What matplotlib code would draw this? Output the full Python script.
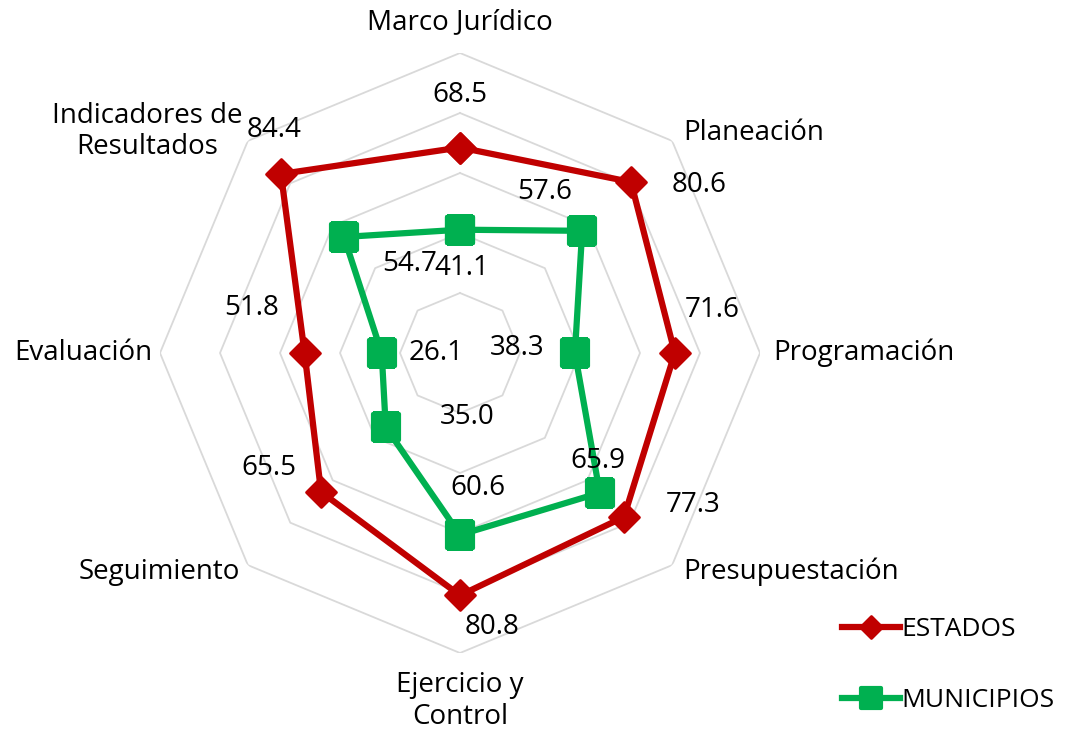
import numpy as np
import matplotlib
matplotlib.use("Agg")
import matplotlib.pyplot as plt
from matplotlib.markers import MarkerStyle

plt.rcParams["font.family"] = ["Open Sans", "DejaVu Sans"]

categories = [
    "Marco Jurídico",
    "Planeación",
    "Programación",
    "Presupuestación",
    "Ejercicio y\nControl",
    "Seguimiento",
    "Evaluación",
    "Indicadores de\nResultados",
]
estados = [68.5, 80.6, 71.6, 77.3, 80.8, 65.5, 51.8, 84.4]
municipios = [41.1, 57.6, 38.3, 65.9, 60.6, 35.0, 26.1, 54.7]
ring_levels = [20, 40, 60, 80, 100]

# label offsets in pixels from each point
est_offsets = [(0, 52), (68, -3), (37, 43), (69, 12), (32, -32), (-52, 24), (-53, 45), (-7, 44)]
mun_offsets = [(2, -38), (-38, 39), (-58, 5), (-2, 32), (18, 47), (81, 10), (54, 0), (66, -27)]
cat_offsets = [(0, 31, "center"), (11, 8, "left"), (13, 0, "left"), (11, -7, "left"),
               (0, -48, "center"), (-8, -7, "right"), (-8, 0, "right"), (-5, 9, "right")]

RED = "#C00000"
GREEN = "#00B050"
GRID = "#D9D9D9"
FS = 20

n = len(categories)
angles = np.linspace(0, 2 * np.pi, n, endpoint=False)
closed = np.append(angles, angles[0])

fig = plt.figure(figsize=(10.72, 7.34), dpi=100)
ax = fig.add_axes([160 / 1072, 81 / 734, 600 / 1072, 600 / 734], projection="polar")
ax.set_theta_zero_location("N")
ax.set_theta_direction(-1)
ax.set_ylim(0, 100)
ax.axis("off")

# octagonal rings
for lvl in ring_levels:
    ax.plot(closed, [lvl] * (n + 1), color=GRID, lw=1.3, zorder=1)

diamond = MarkerStyle("D", joinstyle="round")
square = MarkerStyle("s", joinstyle="round")

ax.plot(closed, estados + estados[:1], color=RED, lw=4.5, marker=diamond,
        ms=15, mew=2, mec=RED, mfc=RED, label="ESTADOS", zorder=3)
ax.plot(closed, municipios + municipios[:1], color=GREEN, lw=4.5, marker=square,
        ms=19, mew=3, mec=GREEN, mfc=GREEN, label="MUNICIPIOS", zorder=3)

for a, v, off in zip(angles, estados, est_offsets):
    ax.annotate(f"{v:.1f}", (a, v), xytext=off, textcoords="offset pixels",
                ha="center", va="center", fontsize=FS, zorder=4)
for a, v, off in zip(angles, municipios, mun_offsets):
    ax.annotate(f"{v:.1f}", (a, v), xytext=off, textcoords="offset pixels",
                ha="center", va="center", fontsize=FS, zorder=4)

for a, name, (dx, dy, ha) in zip(angles, categories, cat_offsets):
    ax.annotate(name, (a, 100), xytext=(dx, dy), textcoords="offset pixels",
                ha=ha, va="center", multialignment="center", fontsize=FS,
                linespacing=1.15, annotation_clip=False)

fig.legend(loc="upper left", bbox_to_anchor=(842 / 1072, 1 - 617 / 734),
           frameon=False, fontsize=19, handlelength=2.2, handletextpad=0.05,
           labelspacing=1.75, markerscale=0.75, borderpad=0, borderaxespad=0)

fig.savefig("out.png", dpi=100)
